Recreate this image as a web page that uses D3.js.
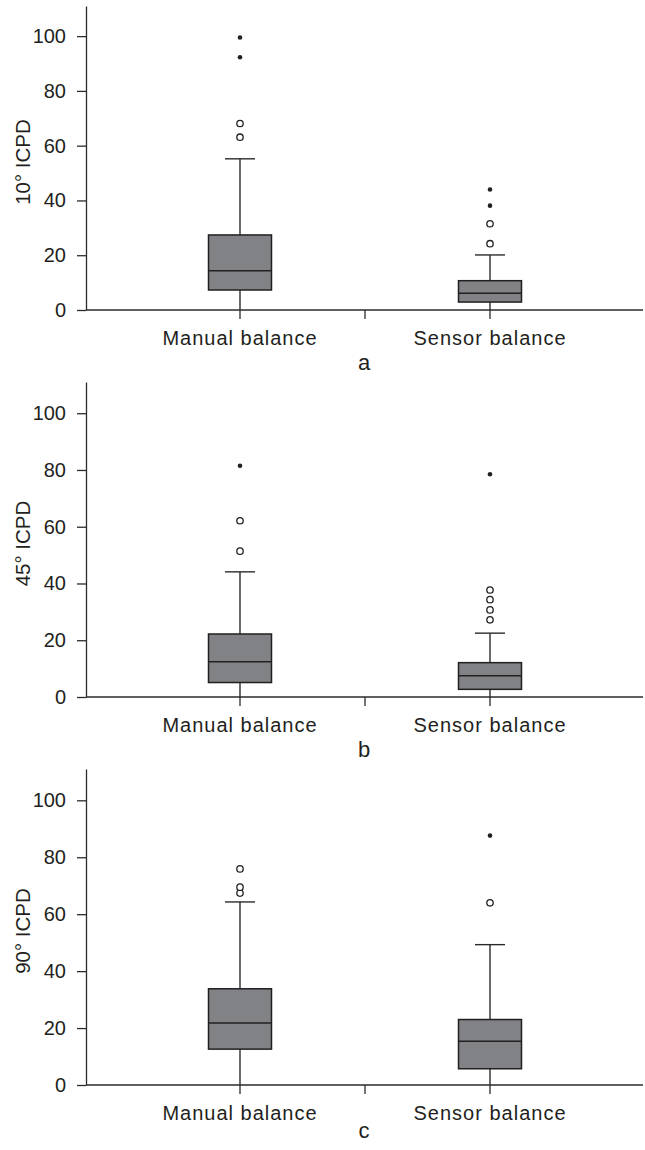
<!DOCTYPE html>
<html>
<head>
<meta charset="utf-8">
<script src="https://cdn.jsdelivr.net/npm/d3@7"></script>
<style>
  body { margin: 0; background: #fff; }
  svg text { font-family: "Liberation Sans", Arial, Helvetica, sans-serif; fill: #231f20; }
</style>
</head>
<body>
<svg id="chart_svg"></svg>
<script>
// Chart values
const categories = ["Manual balance", "Sensor balance"];
const panelLetters = ["a", "b", "c"];
const yTitles = ["10° ICPD", "45° ICPD", "90° ICPD"];
const yTicks = [0, 20, 40, 60, 80, 100];

// per panel: [manual, sensor]
const whiskerLow = [[0, 0], [0, 0], [0, 0]];
const q1 = [[7.3, 2.9], [5.1, 2.7], [12.6, 5.7]];
const medians = [[14.3, 6.1], [12.4, 7.5], [21.8, 15.4]];
const q3 = [[27.4, 10.7], [22.2, 12.1], [33.8, 23.0]];
const whiskerHigh = [[55.2, 20.1], [44.1, 22.5], [64.3, 49.3]];
const outliersOpen = [
  [[63.1, 68.1], [24.2, 31.5]],
  [[51.4, 62.1], [27.2, 30.7, 34.3, 37.7]],
  [[67.4, 69.5, 75.9], [64.0]]
];
const outliersExtreme = [
  [[92.3, 99.5], [38.1, 44.0]],
  [[81.5], [78.5]],
  [[], [87.6]]
];

// Layout
const width = 645, height = 1150;
const panelTop = [6, 382, 769];
const panelBottom = [310, 697, 1085];
const letterOffset = [60, 60, 53];
const axisLeft = 86, axisRight = 643;
const ink = "#2b2b2b";

const svg = d3.select("#chart_svg")
  .attr("width", width)
  .attr("height", height);

const x = d3.scaleBand()
  .domain(categories)
  .range([115, 615]);
const boxW = 63, capW = 30;

panelLetters.forEach((letter, p) => {
  const g = svg.append("g").attr("class", "panel-" + letter);

  const y = d3.scaleLinear()
    .domain([0, 111])
    .range([panelBottom[p], panelTop[p]]);

  // y axis
  const yAxis = g.append("g")
    .attr("transform", `translate(${axisLeft},0)`)
    .call(d3.axisLeft(y).tickValues(yTicks).tickSize(9).tickPadding(11).tickSizeOuter(0));
  yAxis.select(".domain").attr("stroke", ink).attr("stroke-width", 1.3);
  yAxis.selectAll(".tick line").attr("stroke", ink).attr("stroke-width", 1.3);
  yAxis.selectAll(".tick text").attr("font-size", 20).attr("fill", "#231f20");

  // x axis
  const xAxis = g.append("g")
    .attr("transform", `translate(0,${y(0)})`)
    .call(d3.axisBottom(x).tickSize(9).tickPadding(12).tickSizeOuter(0));
  xAxis.select(".domain").attr("d", `M${axisLeft},0H${axisRight}`)
    .attr("stroke", ink).attr("stroke-width", 1.3);
  xAxis.selectAll(".tick line").attr("stroke", ink).attr("stroke-width", 1.3);
  xAxis.selectAll(".tick text")
    .attr("font-size", 20)
    .attr("letter-spacing", "1px")
    .attr("dy", "0.71em")
    .attr("fill", "#231f20");
  // divider tick between the two groups
  xAxis.append("line")
    .attr("x1", x(categories[1])).attr("x2", x(categories[1]))
    .attr("y1", 0).attr("y2", 9)
    .attr("stroke", ink).attr("stroke-width", 1.3);

  // y title
  g.append("text")
    .attr("transform", `translate(30,${(panelTop[p] + panelBottom[p]) / 2 + 4}) rotate(-90)`)
    .attr("text-anchor", "middle")
    .attr("font-size", 20.5)
    .text(yTitles[p]);

  // panel letter
  g.append("text")
    .attr("x", (x(categories[0]) + x(categories[1]) + x.bandwidth()) / 2 - 1)
    .attr("y", panelBottom[p] + letterOffset[p])
    .attr("text-anchor", "middle")
    .attr("font-size", 22)
    .text(letter);

  // boxes
  categories.forEach((cat, i) => {
    const cx = x(cat) + x.bandwidth() / 2;
    const bg = g.append("g");

    bg.append("line")
      .attr("x1", cx).attr("x2", cx)
      .attr("y1", y(whiskerLow[p][i])).attr("y2", y(q1[p][i]))
      .attr("stroke", ink).attr("stroke-width", 1.4);
    bg.append("line")
      .attr("x1", cx).attr("x2", cx)
      .attr("y1", y(q3[p][i])).attr("y2", y(whiskerHigh[p][i]))
      .attr("stroke", ink).attr("stroke-width", 1.4);
    bg.append("line")
      .attr("x1", cx - capW / 2).attr("x2", cx + capW / 2)
      .attr("y1", y(whiskerHigh[p][i])).attr("y2", y(whiskerHigh[p][i]))
      .attr("stroke", ink).attr("stroke-width", 1.4);

    bg.append("rect")
      .attr("x", cx - boxW / 2)
      .attr("y", y(q3[p][i]))
      .attr("width", boxW)
      .attr("height", y(q1[p][i]) - y(q3[p][i]))
      .attr("fill", "#808285")
      .attr("stroke", "#231f20")
      .attr("stroke-width", 1.5);

    bg.append("line")
      .attr("x1", cx - boxW / 2).attr("x2", cx + boxW / 2)
      .attr("y1", y(medians[p][i])).attr("y2", y(medians[p][i]))
      .attr("stroke", "#231f20").attr("stroke-width", 1.5);

    bg.selectAll("circle.open")
      .data(outliersOpen[p][i])
      .enter().append("circle")
      .attr("class", "open")
      .attr("cx", cx)
      .attr("cy", d => y(d))
      .attr("r", 3.2)
      .attr("fill", "#fff")
      .attr("stroke", "#231f20")
      .attr("stroke-width", 1.3);

    bg.selectAll("circle.extreme")
      .data(outliersExtreme[p][i])
      .enter().append("circle")
      .attr("class", "extreme")
      .attr("cx", cx)
      .attr("cy", d => y(d))
      .attr("r", 2.3)
      .attr("fill", "#231f20");
  });
});
</script>
</body>
</html>
